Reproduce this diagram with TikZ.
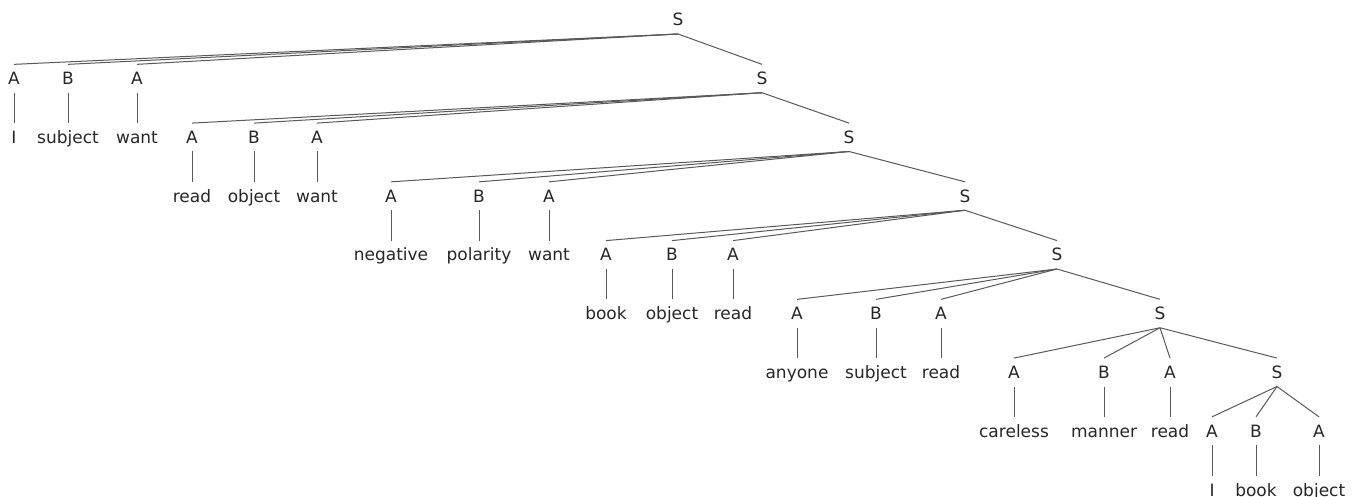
\documentclass[tikz,border=0pt]{standalone}
\usepackage{fontspec}
\setmainfont{DejaVu Sans}
\tikzset{lbl/.style = {inner sep=0, outer ysep=4pt, text height=6.2pt, text depth=0pt,
                       anchor=base, text=black!85, font=\fontsize{8.5}{10}\selectfont}}
\tikzset{branch/.style = {draw=black!65, line width=0.5pt}}

\begin{document}
\begin{tikzpicture}[x=0.5pt, y=-0.5pt]
  \useasboundingbox (0,0) rectangle (1359,497);

  % spine of S nodes
  \node [lbl] (s0) at (678,26) {S};
  \foreach \k/\xs in {1/762, 2/849, 3/965, 4/1057, 5/1160, 6/1277} {
    \pgfmathtruncatemacro\p{\k-1}
    \node [lbl] (s\k) at (\xs, {26+58.75*\k}) {S};
    \draw [branch] (s\p.south) -- (s\k.north);
  }

  % A B A groups and their words
  \foreach \k/\xa/\xb/\xc/\wa/\wb/\wc in {1/14/68/137/I/subject/want,
      2/192/254/317/read/object/want,
      3/391/479/549/negative/polarity/want,
      4/606/672/733/book/object/read,
      5/797/876/941/anyone/subject/read,
      6/1014/1104/1170/careless/manner/read,
      7/1212/1256/1319/I/book/object} {
    \pgfmathtruncatemacro\p{\k-1}
    \node [lbl] (a\k) at (\xa, {26+58.75*\k}) {A};
    \node [lbl] (b\k) at (\xb, {26+58.75*\k}) {B};
    \node [lbl] (c\k) at (\xc, {26+58.75*\k}) {A};
    \node [lbl] (wa\k) at (\xa, {26+58.75*(\k+1)}) {\wa};
    \node [lbl] (wb\k) at (\xb, {26+58.75*(\k+1)}) {\wb};
    \node [lbl] (wc\k) at (\xc, {26+58.75*(\k+1)}) {\wc};
    \draw [branch] (s\p.south) -- (a\k.north);
    \draw [branch] (s\p.south) -- (b\k.north);
    \draw [branch] (s\p.south) -- (c\k.north);
    \draw [branch] (a\k.south) -- (wa\k.north);
    \draw [branch] (b\k.south) -- (wb\k.north);
    \draw [branch] (c\k.south) -- (wc\k.north);
  }
\end{tikzpicture}
\end{document}
